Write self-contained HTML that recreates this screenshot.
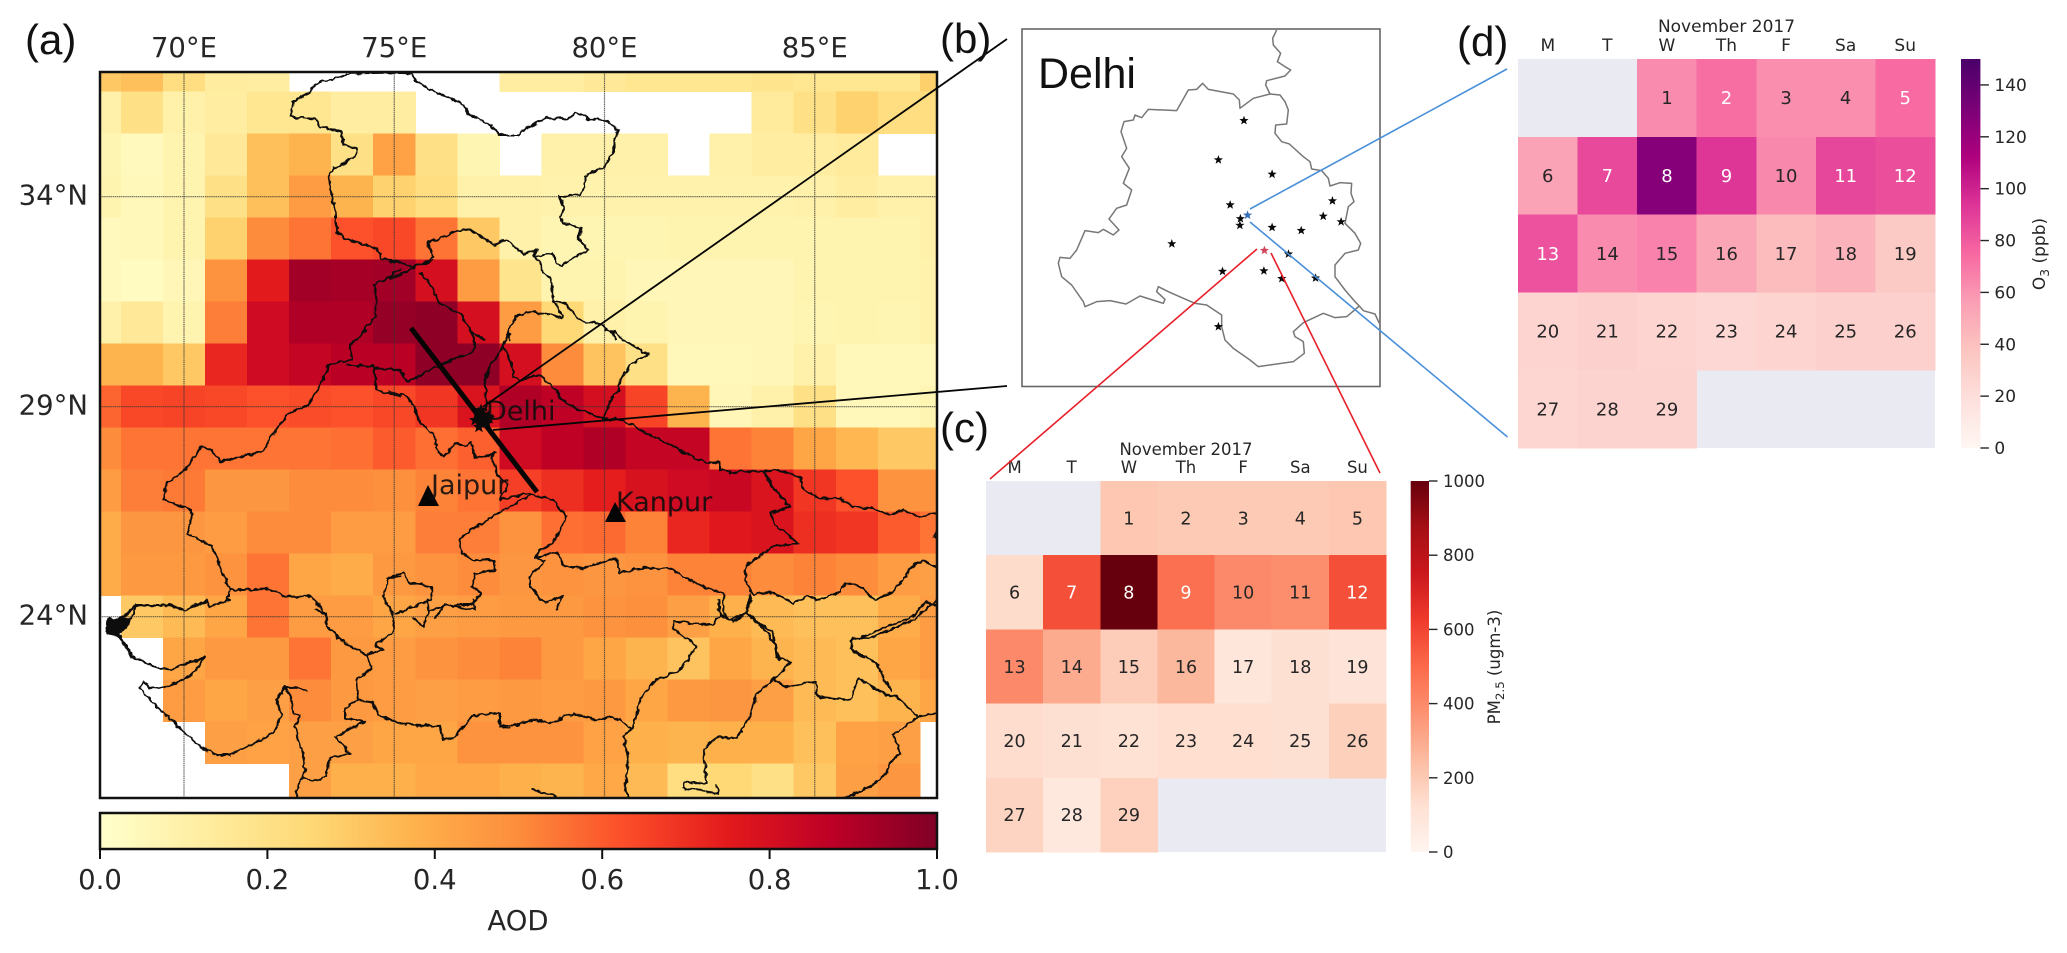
<!DOCTYPE html>
<html lang="en">
<head>
<meta charset="utf-8">
<title>AOD map over northern India with Delhi PM2.5 and O3 calendars</title>
<style>
html,body{margin:0;padding:0;background:#fff;}
svg{display:block;}
.dj{font-family:"DejaVu Sans","Liberation Sans",sans-serif;fill:#262626;}
.ls{font-family:"Liberation Sans",sans-serif;fill:#111;}
.border path{fill:none;stroke:#0a0a0a;stroke-width:6;stroke-linejoin:round;stroke-linecap:round;}
</style>
</head>
<body>
<svg id="fig" xmlns="http://www.w3.org/2000/svg" width="2067" height="953" viewBox="0 0 2067 953">
  <defs>
    <clipPath id="map-clip"><rect x="100" y="72" width="837" height="726"/></clipPath>
    <linearGradient id="aod-grad" x1="0" x2="1" y1="0" y2="0"></linearGradient>
    <linearGradient id="pm-grad" x1="0" x2="0" y1="1" y2="0"></linearGradient>
    <linearGradient id="o3-grad" x1="0" x2="0" y1="1" y2="0"></linearGradient>
    <filter id="wiggle" filterUnits="userSpaceOnUse" x="0" y="0" width="2067" height="953">
      <feTurbulence type="fractalNoise" baseFrequency="0.16" numOctaves="2" seed="4" result="n"/>
      <feDisplacementMap in="SourceGraphic" in2="n" scale="5" xChannelSelector="R" yChannelSelector="G"/>
    </filter>
  </defs>
  <rect width="2067" height="953" fill="#fff"/>

  <g id="map-panel">
    <g id="map-clipped" clip-path="url(#map-clip)">
      <g id="aod-cells"></g>
      <g id="grid-lines"></g>
      <g class="border" filter="url(#wiggle)">
        <g transform="translate(60,40) scale(.33333)">
          <path d="M1020,98 L860,100 L850,110 L765,130 L750,155 L700,185 L692,230 L765,237 L780,262 L845,275 L850,315 L892,325 L885,350 L840,375 L805,400 L815,470 L825,510 L830,575 L855,595 L950,628 L965,655 L1020,665"/>
          <path d="M1020,690 L945,735 L950,790 L945,830 L890,900"/>
        </g>
        <g transform="translate(390,40) scale(.33333)">
          <path d="M0,98 L65,100 L80,125 L130,155 L175,170 L220,195 L238,225 L305,255 L325,285 L385,285 L410,265 L470,235 L540,235 L555,218 L600,238 L640,238 L685,270 L670,330 L645,380 L610,395 L585,410 L585,440 L570,465 L510,468 L522,510 L510,530 L520,550 L575,565 L565,595 L595,630 L540,660 L518,677 L495,665 L490,638 L440,650 L430,652 L440,630 L400,645 L375,620 L350,600 L310,615 L240,568 L205,572 L170,585 L115,608 L130,650 L100,670 L70,680 L40,670 L0,665"/>
          <path d="M0,715 L40,700 L75,680 L130,660"/>
          <path d="M430,652 L450,665 L455,690 L485,720 L490,780 L520,830 L515,835 L480,825 L420,815 L375,830 L355,880 L360,900"/>
          <path d="M490,785 L525,790 L575,845 L625,850 L670,880 L675,900"/>
          <path d="M90,700 L130,745 L145,785 L180,805 L215,825 L240,870 L285,900"/>
        </g>
        <g transform="translate(390,330) scale(.33333)">
          <path d="M240,0 L255,30 L250,60 L215,80 L160,100 L100,130 L50,155 L40,130 L0,115"/>
          <path d="M0,185 L50,200 L75,230 L85,270 L140,330 L135,350 L160,380 L195,340 L225,350 L245,335 L255,385 L320,370 L305,380 L325,440 L355,465 L330,510 L410,490 L490,510 L530,560 L490,640 L450,660 L435,685 L465,695 L420,740 L420,770 L465,820 L515,800 L500,840"/>
          <path d="M290,240 L285,150 L300,105 L340,50 L355,10"/>
          <path d="M340,50 L365,100 L370,140 L395,150 L450,135 L500,185 L510,205 L560,235 L640,265 L700,270 L780,315 L880,365 L950,400 L990,395 L990,420 L1020,425"/>
          <path d="M640,265 L660,215 L685,180 L690,150 L720,105 L775,75 L710,35 L670,5 L645,0"/>
          <path d="M420,495 L360,530 L300,565 L245,600 L205,630 L215,670 L250,690 L310,690 L315,720 L255,730 L245,770 L275,790 L245,825 L165,825 L135,865"/>
          <path d="M435,685 L500,665 L520,705 L580,715 L625,700 L680,685 L690,730 L750,715 L840,715 L890,745 L950,775 L1000,790 L1000,850 L1020,870"/>
          <path d="M0,740 L40,730 L60,760 L125,770 L125,810 L70,830 L20,850"/>
        </g>
        <g transform="translate(60,330) scale(.33333)">
          <path d="M920,0 L870,45 L875,90 L805,105 L790,150 L745,225 L680,255 L630,325 L610,365 L480,395 L455,360 L425,350 L375,420 L320,460 L310,510 L395,540 L385,610 L455,650 L510,780 L625,775 L680,800 L755,800 L800,860"/>
          <path d="M865,105 L940,110 L950,180 L1020,200"/>
          <path d="M940,115 L1020,120"/>
          <path d="M510,780 L500,805 L510,810 L450,830 L440,810 L375,840 L320,825 L225,830 L215,865"/>
          <path d="M1020,740 L985,745 L970,800 L1000,860"/>
        </g>
        <g transform="translate(60,600) scale(.33333)">
          <path d="M185,55 L215,30 L225,15 L330,15 L375,30 L440,5"/>
          <path d="M175,75 L155,65 L145,100 L175,110 L215,170 L300,205 L335,210 L375,190 L420,180 L435,170 L410,210 L375,235 L320,260 L295,265 L270,265 L250,245 L240,265 L290,320 L350,375 L420,440 L470,465 L510,465 L600,420 L640,400 L665,345 L650,300 L675,260 L740,270"/>
          <path d="M145,60 L210,55 L200,80 L170,105 L140,100 Z" style="fill:#0a0a0a;stroke-width:8"/>
          <path d="M175,105 L205,150" style="stroke-width:12"/>
          <path d="M675,260 L695,300 L700,340 L720,345 L705,380 L730,470 L735,510 L710,570 L710,595"/>
          <path d="M770,30 L800,45 L800,75 L840,120 L920,165 L935,205 L890,240 L895,300 L855,325 L855,355 L915,365 L825,410 L870,460 L810,475 L800,530 L760,545 L730,530"/>
          <path d="M920,165 L970,150 L945,135 L1000,95 L1000,40 L975,0"/>
          <path d="M895,300 L935,305 L955,345 L1020,370 L1140,380 L1150,420 L1180,415 L1240,345 L1320,340 L1320,380 L1350,385"/>
          <path d="M1060,55 L1090,78 L1100,50 L1110,30 L1160,15 L1245,30 L1240,0"/>
          <path d="M1100,0 L1105,30"/>
        </g>
        <g transform="translate(500,600) scale(.33333)">
          <path d="M0,380 L50,375 L100,358 L150,370 L220,340 L290,360 L340,350 L400,385"/>
          <path d="M400,385 L370,405 L385,480 L375,570 L390,595"/>
          <path d="M400,385 L420,300 L460,245 L540,210 L590,140 L520,85 L520,65 L640,75 L660,45 L700,65 L740,40 L820,100 L830,170 L870,185 L820,240"/>
          <path d="M660,45 L655,0"/>
          <path d="M740,40 L750,0"/>
          <path d="M820,240 L770,280 L750,350 L710,415 L650,410 L610,450 L620,550 L555,545 L550,565 L655,580 L650,555"/>
          <path d="M820,240 L860,260 L950,245 L950,290 L1050,300 L1075,235 L1170,290 L1190,290 L1255,350 L1310,340"/>
          <path d="M1255,350 L1180,405 L1200,460 L1170,490 L1160,520 L1100,565 L1030,595"/>
          <path d="M1170,270 L1130,190 L1050,145 L1060,115 L1110,115 L1240,60 L1310,0"/>
          <path d="M100,570 L170,590"/>
        </g>
        <g transform="translate(730,325) scale(.33333)">
          <path d="M0,445 L40,440 L105,440 L145,435 L210,455 L215,490 L270,520 L330,520 L370,545 L430,550 L480,570 L520,555 L560,575 L620,565"/>
          <path d="M105,445 L130,490 L180,545 L120,565 L135,600 L205,655 L130,665 L50,720 L45,760 L70,810 L125,800 L190,835 L230,815 L270,825 L330,800 L345,775 L385,780 L435,825 L490,800 L520,760 L550,720 L580,705 L620,730"/>
          <path d="M60,810 L50,865 L0,885"/>
          <path d="M50,865 L100,910 L130,950 L150,1005"/>
          <path d="M620,840 L590,830 L540,880 L470,905 L400,935 L365,945 L365,975 L400,1000"/>
          <path d="M620,620 L610,635 L620,640"/>
        </g>
      </g>
      <path d="M411,328 L537,492" stroke="#050505" stroke-width="5" fill="none"/>
      <g id="map-stations"></g>
      <path d="M428,485 L439,506 L418,506 Z" fill="#050505"/>
      <path d="M615,502 L626,522 L605,522 Z" fill="#050505"/>
      <text class="dj" x="486" y="420" font-size="27" style="fill:#0c0c0c" fill-opacity=".88">Delhi</text>
      <text class="dj" x="431" y="494" font-size="27" style="fill:#0c0c0c" fill-opacity=".88">Jaipur</text>
      <text class="dj" x="616" y="511" font-size="27" style="fill:#0c0c0c" fill-opacity=".88">Kanpur</text>
    </g>
    <rect x="100" y="72" width="837" height="726" fill="none" stroke="#111" stroke-width="2.5"/>
    <g id="map-labels"></g>
  </g>

  <g id="aod-colorbar">
    <rect x="100" y="813" width="837" height="36" fill="url(#aod-grad)" stroke="#111" stroke-width="2.5"/>
    <text class="dj" x="518" y="930" font-size="27.5" text-anchor="middle">AOD</text>
  </g>

  <g id="delhi-panel">
    <rect x="1022" y="29" width="358" height="357.5" fill="#fff" stroke="#666" stroke-width="1.6"/>
    <text class="ls" x="1038" y="88" font-size="43">Delhi</text>
    <g transform="translate(1020,20) scale(.33333)" fill="none" stroke="#777" stroke-width="4.5" stroke-linejoin="round">
      <path d="M770,30 L758,55 L760,75 L782,100 L772,125 L795,140 L812,150 L795,168 L740,182 L737,195 L750,222"/>
      <path d="M750,222 L780,225 L795,245 L805,270 L800,312 L767,315 L765,340 L785,365 L808,372 L850,410 L870,425 L875,447 L905,452 L925,475 L930,498 L960,488 L995,490 L993,520 L1002,545 L985,560 L975,610 L1005,640 L1022,670 L1015,690 L975,700 L945,735 L945,770 L975,810 L1005,845 L1018,858 L1030,872 L1065,882 L1078,910"/>
      <path d="M1018,858 L980,890 L945,893 L910,880 L850,908 L820,935 L825,950 L850,965 L853,1000 L820,1025 L715,1040 L690,1020 L640,985 L615,960 L605,920 L605,885 L560,855 L525,850 L490,835 L445,815 L415,800 L410,815 L435,838 L430,850 L360,828 L318,852 L270,842 L230,845 L195,860 L190,845 L155,795 L125,770 L115,730 L120,712 L150,715 L170,690 L195,632 L235,638 L250,628 L280,645 L297,630 L267,597 L290,565 L320,555 L335,510 L310,490 L328,445 L305,410 L320,385 L303,335 L312,305 L340,300 L345,285 L365,293 L385,268 L470,272 L505,210 L530,208 L548,190 L565,208 L640,222 L658,240 L660,265 L700,235 L750,222"/>
    </g>
    <g id="delhi-stations"></g>
  </g>

  <g id="pm-panel"></g>
  <g id="o3-panel"></g>

  <g fill="none">
    <line x1="483" y1="407" x2="1007" y2="39" stroke="#050505" stroke-width="1.8"/>
    <line x1="493" y1="430" x2="1007" y2="386" stroke="#050505" stroke-width="1.8"/>
    <line x1="1257" y1="249" x2="990" y2="479" stroke="#e8202a" stroke-width="1.6"/>
    <line x1="1271" y1="253" x2="1380" y2="473" stroke="#e8202a" stroke-width="1.6"/>
    <line x1="1250" y1="209" x2="1507" y2="69" stroke="#4a90d9" stroke-width="1.6"/>
    <line x1="1250" y1="222" x2="1507.5" y2="437" stroke="#4a90d9" stroke-width="1.6"/>
  </g>

  <text class="ls" x="25" y="54" font-size="42">(a)</text>
  <text class="ls" x="940" y="53" font-size="42">(b)</text>
  <text class="ls" x="940" y="442" font-size="42">(c)</text>
  <text class="ls" x="1457" y="56" font-size="42">(d)</text>
</svg>

<script>
// ---- data ----
const aodLons = [68,69,70,71,72,73,74,75,76,77,78,79,80,81,82,83,84,85,86,87,88];
const aodLats = [37,36,35,34,33,32,31,30,29,28,27,26,25,24,23,22,21,20];
const _ = null;
const aodRows = [
 [.30,.33,.22,.13,.12,_,_,_,_,_,.12,.12,.15,.17,.17,.17,.18,.17,.17,.17,.28],
 [.10,.20,.10,.12,.17,.17,.12,.12,_,_,_,_,_,_,_,_,.14,.20,.27,.22,.22],
 [.07,.04,.08,.15,.33,.37,.20,.43,.20,.07,_,.10,.10,.10,_,.10,.12,.12,.14,_,_],
 [.08,.05,.08,.20,.33,.45,.37,.27,.22,.10,.10,.09,.09,.09,.09,.09,.09,.10,.12,.10,.10],
 [.04,.05,.08,.27,.50,.55,.62,.64,.55,.30,.10,.07,.07,.07,.08,.08,.08,.08,.08,.08,.10],
 [.04,.03,.06,.48,.75,.93,.92,.93,.80,.45,.18,.08,.08,.06,.06,.06,.06,.08,.08,.08,.09],
 [.10,.15,.08,.53,.82,.90,.90,.96,.97,.80,.45,.25,.10,.08,.06,.06,.06,.07,.08,.07,.09],
 [.37,.37,.30,.72,.82,.85,.88,.88,.97,.97,.80,.50,.32,.20,.05,.05,.06,.10,.05,.05,.05],
 [.58,.64,.65,.64,.62,.63,.62,.64,.68,.78,.90,.87,.80,.65,.37,.06,.10,.20,.05,.05,.07],
 [.50,.55,.55,.55,.55,.55,.56,.60,.56,.59,.82,.87,.90,.85,.85,.55,.52,.42,.36,.30,.30],
 [.45,.53,.54,.47,.47,.50,.50,.49,.52,.55,.66,.70,.74,.79,.82,.84,.78,.68,.62,.48,.48],
 [.40,.47,.47,.45,.50,.50,.45,.45,.53,.53,.48,.56,.57,.52,.72,.76,.78,.70,.68,.60,.55],
 [.40,.46,.46,.48,.55,.42,.40,.46,.48,.50,.47,.48,.47,.48,.52,.52,.50,.52,.50,.45,.44],
 [_,.30,.35,.42,.55,.45,.45,.42,.44,.45,.46,.46,.48,.49,.44,.38,.35,.33,.33,.40,.45],
 [_,_,.42,.46,.46,.55,.46,.45,.48,.50,.52,.46,.42,.37,.32,.42,.37,.35,.33,.42,.45],
 [_,_,.45,.42,.44,.50,.46,.45,.44,.45,.46,.45,.46,.42,.46,.47,.44,.35,.33,.37,.42],
 [_,_,_,.44,.43,.44,.44,.42,.42,.48,.48,.48,.43,.38,.37,.38,.38,.33,.43,.44,_],
 [_,_,_,_,_,.44,.38,.38,.41,.41,.38,.37,.41,.35,.22,.25,.20,.30,.44,.47,_]
];
const gridLons = [70,75,80,85];
const gridLats = [34,29,24];
const aodTicks = [0,.2,.4,.6,.8,1];

const stationLons = [77.064,77.014,77.119,77.037,77.071,77.057,77.056,77.119,77.176,77.219,77.237,77.254,76.923,77.104,77.151,77.022,77.103,77.138,77.204,77.014];
const stationLats = [28.871,28.794,28.766,28.706,28.686,28.679,28.666,28.662,28.656,28.684,28.714,28.673,28.630,28.617,28.610,28.576,28.577,28.562,28.563,28.468];
const stationKinds = ['k','k','k','k','o3','k','k','k','k','k','k','k','k','pm','k','k','k','k','k','k'];

const weekdays = ['M','T','W','Th','F','Sa','Su'];
const firstDayOffset = 2;
const pmValues = [210,200,200,200,210,140,570,1000,480,400,390,570,400,300,190,260,90,125,100,135,125,115,130,130,125,180,165,75,175];
const o3Values = [63,73,62,62,74,55,86,127,93,64,87,84,83,63,66,53,42,47,34,27,29,27,25,27,29,30,26,28,28];
const pmTicks = [0,200,400,600,800,1000];
const o3Ticks = [0,20,40,60,80,100,120,140];

const ylOrRd = ['#ffffcc','#ffeda0','#fed976','#feb24c','#fd8d3c','#fc4e2a','#e31a1c','#bd0026','#800026'];
const reds = ['#fff5f0','#fee0d2','#fcbba1','#fc9272','#fb6a4a','#ef3b2c','#cb181d','#a50f15','#67000d'];
const rdPu = ['#fff7f3','#fde0dd','#fcc5c0','#fa9fb5','#f768a1','#dd3497','#ae017e','#7a0177','#49006a'];

// ---- helpers ----
const NS = 'http://www.w3.org/2000/svg';
function mk(parent, tag, attrs, text){
  const el = document.createElementNS(NS, tag);
  for(const k in attrs) el.setAttribute(k, attrs[k]);
  if(text !== undefined) el.textContent = text;
  parent.appendChild(el);
  return el;
}
function hex(c){return [1,3,5].map(i=>parseInt(c.substr(i,2),16));}
function cmap(stops, t){
  t = Math.max(0, Math.min(1, t));
  const p = t*(stops.length-1), i = Math.min(Math.floor(p), stops.length-2), f = p-i;
  const a = hex(stops[i]), b = hex(stops[i+1]);
  return 'rgb('+a.map((v,j)=>Math.round(v+(b[j]-v)*f)).join(',')+')';
}
function fillGrad(id, stops){
  const g = document.getElementById(id);
  stops.forEach((c,i)=>mk(g,'stop',{offset:i/(stops.length-1),'stop-color':c}));
}
function starPoints(cx, cy, r){
  const pts = [];
  for(let i=0;i<10;i++){
    const rr = i%2 ? r*.42 : r, a = -Math.PI/2 + i*Math.PI/5;
    pts.push((cx+rr*Math.cos(a)).toFixed(1)+','+(cy+rr*Math.sin(a)).toFixed(1));
  }
  return pts.join(' ');
}

// ---- axis functions ----
const mapX = lon => 184 + (lon-70)*42.05;
const mapY = lat => 196.7 + (34-lat)*42;
const aodCbX = v => 100 + v*837;
const insetX = lon => 1022 + (lon-76.63)/0.7*358;
const insetY = lat => 29 + (29.05-lat)/0.7*358;

// ---- map ----
const cellsG = document.getElementById('aod-cells');
aodRows.forEach((row, r) => row.forEach((v, c) => {
  if(v === null) return;
  const x0 = mapX(aodLons[c]-.5), x1 = mapX(aodLons[c]+.5), y0 = mapY(aodLats[r]+.5), y1 = mapY(aodLats[r]-.5);
  const cell = mk(cellsG,'rect',{x:x0,y:y0,width:x1-x0+.5,height:y1-y0+.5,fill:cmap(ylOrRd,v),'shape-rendering':'crispEdges'});
  
  
}));
const gridG = document.getElementById('grid-lines');
const labelsG = document.getElementById('map-labels');
gridLons.forEach(lon => {
  const line = mk(gridG,'line',{x1:mapX(lon),x2:mapX(lon),y1:72,y2:798,stroke:'#333','stroke-opacity':.72,'stroke-width':1.2,'stroke-dasharray':'1.5 .6'});
  
  
  const lab = mk(labelsG,'text',{x:mapX(lon),y:57,'font-size':27.5,'text-anchor':'middle',class:'dj'},lon+'°E');
  
  
});
gridLats.forEach(lat => {
  const line = mk(gridG,'line',{x1:100,x2:937,y1:mapY(lat),y2:mapY(lat),stroke:'#333','stroke-opacity':.72,'stroke-width':1.2,'stroke-dasharray':'1.5 .6'});
  
  
  const lab = mk(labelsG,'text',{x:88,y:mapY(lat)+8,'font-size':27.5,'text-anchor':'end',class:'dj'},lat+'°N');
  
  
});

// ---- AOD colorbar ----
fillGrad('aod-grad', ylOrRd);
const cbG = document.getElementById('aod-colorbar');
aodTicks.forEach(v => {
  const tick = mk(cbG,'line',{x1:aodCbX(v),x2:aodCbX(v),y1:849,y2:859,stroke:'#111','stroke-width':2});
  
  
  const lab = mk(cbG,'text',{x:aodCbX(v),y:889,'font-size':27.5,'text-anchor':'middle',class:'dj'},v.toFixed(1));
  
  
});

// ---- stations ----
const insetG = document.getElementById('delhi-stations');
const clusterG = document.getElementById('map-stations');
stationLons.forEach((lon, i) => {
  const kind = stationKinds[i];
  const color = kind === 'o3' ? '#3a6fb5' : kind === 'pm' ? '#d0455a' : '#0a0a0a';
  const s = mk(insetG,'polygon',{points:starPoints(insetX(lon),insetY(stationLats[i]),4.8),fill:color});
  
  
  const m = mk(clusterG,'polygon',{points:starPoints(mapX(lon),mapY(stationLats[i])-2,6.5),fill:'#0a0a0a'});
  
  
});

// ---- calendars ----
function calendar(cfg){
  const g = document.getElementById(cfg.id);
  const cw = cfg.w/7, ch = cfg.h/5;
  const colX = c => cfg.x + c*cw;
  const rowY = r => cfg.y + r*ch;
  const bg = mk(g,'rect',{x:cfg.x,y:cfg.y,width:cfg.w,height:cfg.h,fill:'#e9eaf2'});
  
  
  cfg.values.forEach((v, i) => {
    const slot = i + firstDayOffset, c = slot%7, r = Math.floor(slot/7);
    const cell = mk(g,'rect',{x:colX(c),y:rowY(r),width:cw+.5,height:ch+.5,fill:cmap(cfg.stops,v/cfg.vmax),'shape-rendering':'crispEdges'});
    
    
    const t = mk(g,'text',{x:colX(c)+cw/2,y:rowY(r)+ch/2+6.3,'font-size':cfg.fs,'text-anchor':'middle',class:'dj',style:'fill:'+(v/cfg.vmax>cfg.thr?'#fff':'#262626')},String(i+1));
    
    
  });
  weekdays.forEach((d, c) => {
    const t = mk(g,'text',{x:colX(c)+cw/2,y:cfg.dayY,'font-size':cfg.small,'text-anchor':'middle',class:'dj'},d);
    
    
  });
  const title = mk(g,'text',{x:cfg.x+cw*3.5,y:cfg.titleY,'font-size':cfg.small,'text-anchor':'middle',class:'dj'},'November 2017');
  
  
  fillGrad(cfg.grad, cfg.stops);
  const bar = mk(g,'rect',{x:cfg.cbX,y:cfg.y,width:cfg.cbW,height:cfg.h,fill:'url(#'+cfg.grad+')'});
  
  
  const cbY = v => cfg.y + cfg.h*(1 - v/cfg.vmax);
  cfg.ticks.forEach(v => {
    const tk = mk(g,'line',{x1:cfg.cbX+cfg.cbW,x2:cfg.cbX+cfg.cbW+8.5,y1:cbY(v),y2:cbY(v),stroke:'#262626','stroke-width':1.4});
    
    
    const lb = mk(g,'text',{x:cfg.cbX+cfg.cbW+14,y:cbY(v)+6,'font-size':cfg.small,class:'dj'},String(v));
    
    
  });
  const lab = mk(g,'text',{'font-size':cfg.small,'text-anchor':'middle',class:'dj',transform:'translate('+cfg.labX+','+cfg.labY+') rotate(-90)'});
  
  
  mk(lab,'tspan',{},cfg.lab[0]);
  mk(lab,'tspan',{dy:4,'font-size':cfg.small*.72},cfg.lab[1]);
  mk(lab,'tspan',{dy:-4},cfg.lab[2]);
}
calendar({id:'pm-panel',x:986,y:481,w:400,h:371,values:pmValues,vmax:1000,thr:.44,stops:reds,grad:'pm-grad',
  cbX:1410.7,cbW:18.3,ticks:pmTicks,dayY:473,titleY:455,fs:17.5,small:16.5,labX:1500,labY:667,lab:['PM','2.5',' (ugm-3)']});
calendar({id:'o3-panel',x:1518,y:59,w:417,h:389,values:o3Values,vmax:150,thr:.465,stops:rdPu,grad:'o3-grad',
  cbX:1961,cbW:19.4,ticks:o3Ticks,dayY:51,titleY:32,fs:18,small:17,labX:2045,labY:254,lab:['O','3',' (ppb)']});
</script>
</body>
</html>
